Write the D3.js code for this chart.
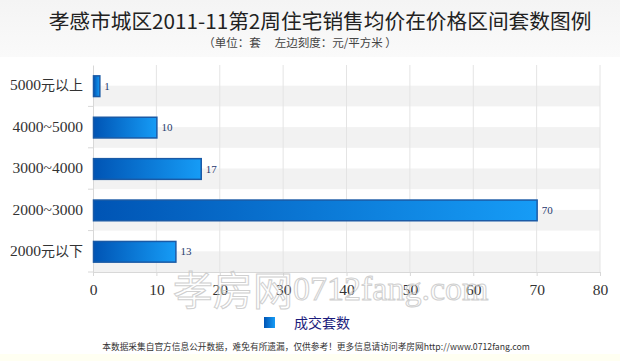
<!DOCTYPE html>
<html><head><meta charset="utf-8">
<script src="https://cdn.jsdelivr.net/npm/d3@7/dist/d3.min.js"></script>
<style>
body{margin:0;padding:0;background:#fff;}
svg{display:block;}
</style></head>
<body>
<svg id="chart" width="620" height="361"></svg>
<script>
const categories = ["5000元以上", "4000~5000", "3000~4000", "2000~3000", "2000元以下"];
const values = [1, 10, 17, 70, 13];
const xTicks = [0, 10, 20, 30, 40, 50, 60, 70, 80];
const seriesName = "成交套数";
const titleText = "孝感市城区2011-11第2周住宅销售均价在价格区间套数图例";
const subtitleText = "（单位：套　 左边刻度：元/平方米 ）";
const footerText = "本数据采集自官方信息公开数据，难免有所遗漏，仅供参考！更多信息请访问孝房网http://www.0712fang.com";

const svg = d3.select("#chart");
const W = 620, H = 361;
const serif = "'Liberation Serif','DejaVu Serif','Noto Sans CJK SC',serif";
const cjk = "'Noto Sans CJK SC','Liberation Serif',serif";

const defs = svg.append("defs");
const hg = defs.append("linearGradient").attr("id","hdr").attr("x1",0).attr("y1",0).attr("x2",0).attr("y2",1);
hg.append("stop").attr("offset","0%").attr("stop-color","#f4f4f4");
hg.append("stop").attr("offset","100%").attr("stop-color","#fafafa");
const bg = defs.append("linearGradient").attr("id","barg").attr("x1",0).attr("y1",0).attr("x2",1).attr("y2",0);
bg.append("stop").attr("offset","0%").attr("stop-color","#0054b4");
bg.append("stop").attr("offset","100%").attr("stop-color","#169cf6");

// header band
svg.append("rect").attr("x",0).attr("y",0).attr("width",W).attr("height",57).attr("fill","url(#hdr)");
// footer band
svg.append("rect").attr("x",0).attr("y",354).attr("width",W).attr("height",7).attr("fill","#fffff2");

svg.append("text").attr("x",320).attr("y",29).attr("text-anchor","middle")
  .attr("font-family",cjk).attr("font-size",20.7).attr("fill","#222").text(titleText);
svg.append("text").attr("x",300).attr("y",47).attr("text-anchor","middle")
  .attr("font-family",cjk).attr("font-size",11.5).attr("fill","#444").text(subtitleText);

const m = {left:93, right:600, top:65, bottom:272};
const x = d3.scaleLinear().domain([0,80]).range([m.left, m.right]);
const y = d3.scaleBand().domain(categories).range([m.top, m.bottom]);

// stripes: lower half of each band grey
svg.append("g").selectAll("rect").data(categories).join("rect")
  .attr("x", m.left).attr("width", m.right - m.left)
  .attr("y", d => y(d) + y.bandwidth()/2).attr("height", y.bandwidth()/2)
  .attr("fill","#f2f2f2");

// vertical grid
svg.append("g").selectAll("line").data(xTicks.slice(1)).join("line")
  .attr("x1", d=>x(d)).attr("x2", d=>x(d)).attr("y1", m.top).attr("y2", m.bottom)
  .attr("stroke","#e4e4e4").attr("stroke-width",1);

// y axis
const yAxis = d3.axisLeft(y).tickSize(5).tickPadding(6).tickSizeOuter(0);
const gy = svg.append("g").attr("transform",`translate(${m.left},0)`).call(yAxis);
gy.select(".domain").attr("stroke","#d8d8d8");
gy.selectAll(".tick line").attr("stroke","#d8d8d8").attr("transform",`translate(0,${y.bandwidth()/2})`);
gy.selectAll(".tick text").attr("font-family",cjk).attr("font-size",14).attr("fill","#333").attr("x",-10);
gy.selectAll(".tick text").filter(d=>/~/.test(d)).attr("font-family",serif).attr("font-size",15.5);
gy.selectAll(".tick text").filter(d=>!/~/.test(d)).each(function(d){
  const t = d3.select(this); t.text(null);
  const m2 = d.match(/^(\d+)(.*)$/);
  t.append("tspan").attr("font-family",serif).attr("font-size",15.5).text(m2[1]);
  t.append("tspan").attr("font-family",cjk).attr("font-size",14).text(m2[2]);
});

// x axis
const xAxis = d3.axisBottom(x).tickValues(xTicks).tickSize(4).tickPadding(8).tickFormat(d3.format("d"));
const gx = svg.append("g").attr("transform",`translate(0,${m.bottom})`).call(xAxis);
gx.select(".domain").attr("stroke","#d8d8d8");
gx.selectAll(".tick line").attr("stroke","#d8d8d8");
gx.selectAll(".tick text").attr("font-family",serif).attr("font-size",15.5).attr("fill","#333");

// bars
const bh = y.bandwidth()*0.5;
svg.append("g").selectAll("rect").data(categories).join("rect")
  .attr("x", x(0)+0.5).attr("y", (d)=> y(d) + (y.bandwidth()-bh)/2 + 0.5)
  .attr("width", (d,i)=> x(values[i]) - x(0)).attr("height", bh)
  .attr("fill","url(#barg)").attr("stroke","#1a5aa6").attr("stroke-width",1.5);

// value labels
svg.append("g").selectAll("text").data(categories).join("text")
  .attr("x",(d,i)=> x(values[i]) + 5).attr("y", d=> y(d) + y.bandwidth()/2 + 4)
  .attr("font-family",serif).attr("font-size",11).attr("fill","#1f3a6e")
  .text((d,i)=>values[i]);

// watermark (outline only, as in the reference)
const wm = svg.append("g").attr("opacity",0.85).attr("pointer-events","none");
wm.append("text").attr("x",173).attr("y",305).attr("font-family",cjk).attr("font-size",40)
  .attr("fill","none").attr("stroke","#c8c8c8").attr("stroke-width",1).text("孝房网");
wm.append("text").attr("x",293).attr("y",300).attr("font-family",serif).attr("font-size",34)
  .attr("fill","none").attr("stroke","#c8c8c8").attr("stroke-width",1).text("0712fang.com");

// legend
svg.append("rect").attr("x",264).attr("y",317).attr("width",11).attr("height",11).attr("fill","url(#barg)");
svg.append("text").attr("x",294).attr("y",328).attr("font-family",cjk).attr("font-size",14).attr("fill","#1c1c7c").text(seriesName);

// footer
svg.append("text").attr("x",316).attr("y",350).attr("text-anchor","middle")
  .attr("font-family",cjk).attr("font-size",8.7).attr("fill","#333").text(footerText);
</script>
</body></html>
